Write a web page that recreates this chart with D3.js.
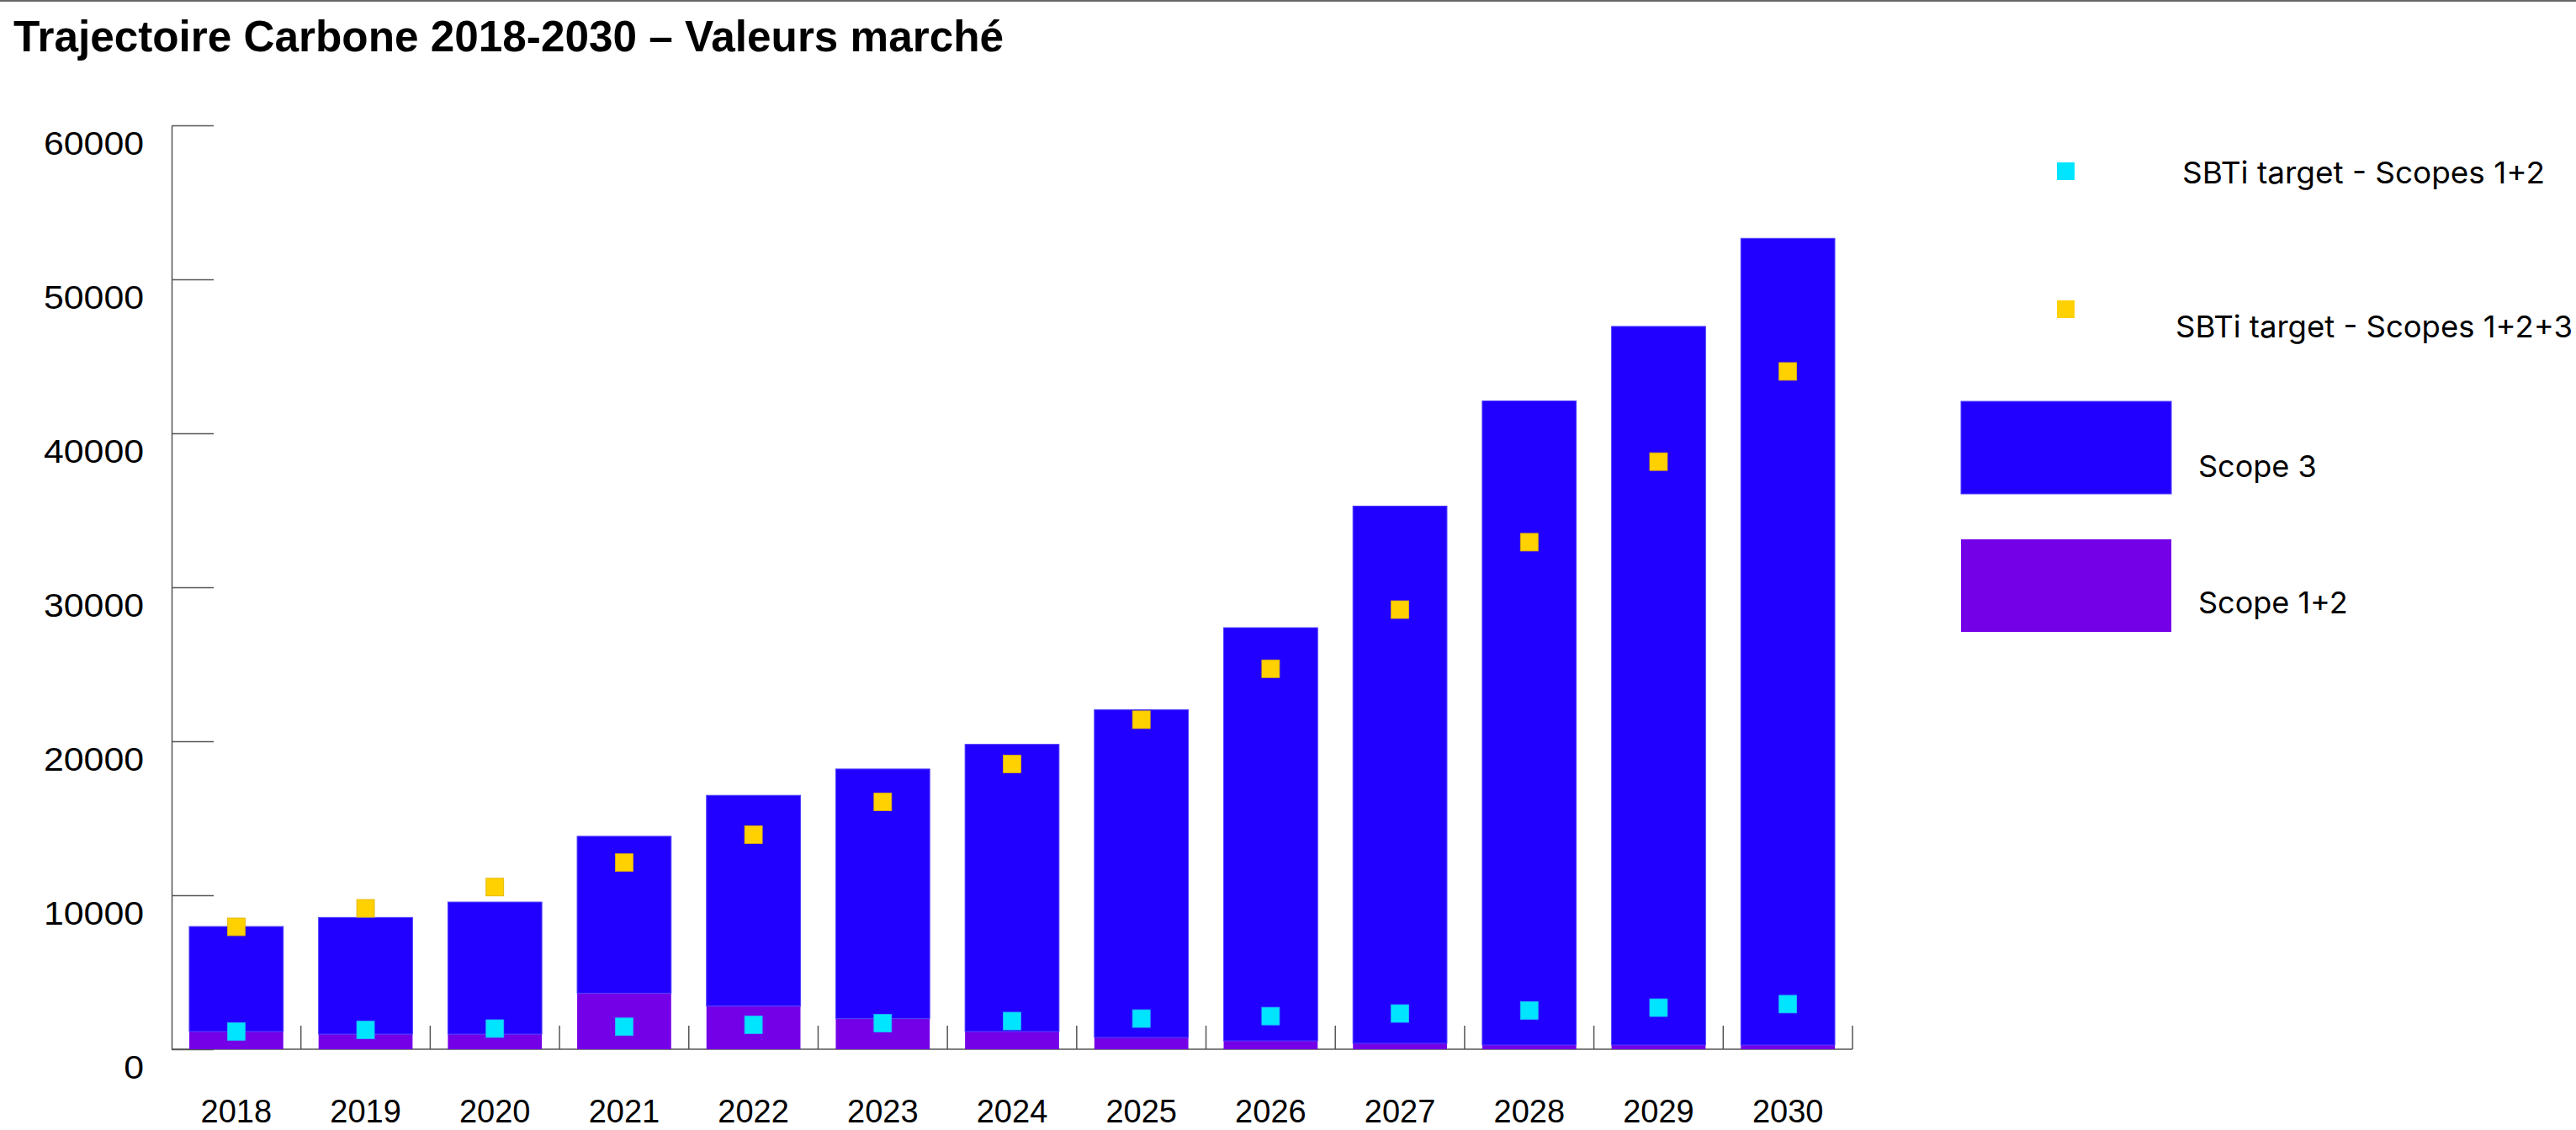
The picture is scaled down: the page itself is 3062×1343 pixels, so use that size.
<!DOCTYPE html>
<html>
<head>
<meta charset="utf-8">
<script src="https://cdn.jsdelivr.net/npm/d3@7"></script>
<style>
  body { margin: 0; background: #fff; }
  svg { display: block; }
</style>
</head>
<body>
<script>
const years = ["2018","2019","2020","2021","2022","2023","2024","2025","2026","2027","2028","2029","2030"];
const scope12 = [1150, 980, 980, 3640, 2800, 1990, 1150, 765, 546, 383, 273, 273, 273];
const scope3 = [6820, 7580, 8580, 10190, 13690, 16210, 18650, 21280, 26830, 34890, 41830, 46670, 52390];
const sbti12 = [1150, 1250, 1340, 1460, 1580, 1690, 1830, 1990, 2150, 2320, 2520, 2700, 2930];
const sbti123 = [7950, 9150, 10530, 12120, 13930, 16060, 18520, 21400, 24710, 28550, 32930, 38160, 44020];
const yTicks = [0, 10000, 20000, 30000, 40000, 50000, 60000];
const title = "Trajectoire Carbone 2018-2030 – Valeurs marché";

const W = 3062, H = 1343;
const colS3 = "#2200ff", colS12 = "#7400e8", colCyan = "#00e5ff", colYellow = "#ffd100";

const svg = d3.select("body").append("svg")
    .attr("width", W)
    .attr("height", H);

// top rule
svg.append("rect")
    .attr("x", 0).attr("y", 0)
    .attr("width", W).attr("height", 2)
    .attr("fill", "#666");

svg.append("text")
    .attr("x", 16)
    .attr("y", 61)
    .attr("font-family", "'Liberation Sans', Arial, sans-serif")
    .attr("font-weight", "bold")
    .attr("font-size", 52)
    .attr("textLength", 1177)
    .attr("lengthAdjust", "spacingAndGlyphs")
    .text(title);

const x = d3.scaleBand()
    .domain(years)
    .range([204, 2202])
    .paddingInner(0.273)
    .paddingOuter(0.1365);

const xb = d3.scaleBand()
    .domain(years)
    .range([204, 2202]);

const y = d3.scaleLinear()
    .domain([0, 60000])
    .range([1247, 149]);

// y axis
const yAxis = svg.append("g")
    .attr("transform", "translate(204,0)")
    .call(d3.axisLeft(y).tickValues(yTicks).tickFormat(d3.format("d"))
        .tickSize(-50).tickSizeOuter(0).tickPadding(33));
yAxis.select(".domain").attr("stroke", "#555").attr("stroke-width", 1.5);
yAxis.selectAll(".tick line").attr("stroke", "#555").attr("stroke-width", 1.5);
yAxis.selectAll(".tick text")
    .attr("y", 22)
    .attr("fill", "#000")
    .attr("font-family", "'Liberation Sans', Arial, sans-serif")
    .attr("font-size", 39)
    .attr("textLength", d => String(d).length * 23.8)
    .attr("lengthAdjust", "spacingAndGlyphs");

// x axis
const xAxis = svg.append("g")
    .attr("transform", "translate(0,1247)")
    .call(d3.axisBottom(x).tickSize(0).tickSizeOuter(0).tickPadding(60));
xAxis.select(".domain").remove();
xAxis.selectAll(".tick text")
    .attr("fill", "#000")
    .attr("font-family", "'Liberation Sans', Arial, sans-serif")
    .attr("font-size", 38);

svg.append("line")
    .attr("x1", 204).attr("x2", 2202)
    .attr("y1", 1247).attr("y2", 1247)
    .attr("stroke", "#555").attr("stroke-width", 1.5);

svg.append("g").selectAll("line")
    .data(years)
    .join("line")
    .attr("x1", d => xb(d) + xb.bandwidth())
    .attr("x2", d => xb(d) + xb.bandwidth())
    .attr("y1", 1219)
    .attr("y2", 1247)
    .attr("stroke", "#555")
    .attr("stroke-width", 1.5);

// stacked bars
const rows = years.map((yr, i) => ({ year: yr, s12: scope12[i], s3: scope3[i], t12: sbti12[i], t123: sbti123[i] }));

svg.append("g").selectAll("rect")
    .data(rows)
    .join("rect")
    .attr("x", d => x(d.year))
    .attr("width", x.bandwidth())
    .attr("y", d => y(d.s12))
    .attr("height", d => y(0) - y(d.s12))
    .attr("fill", colS12);

svg.append("g").selectAll("rect")
    .data(rows)
    .join("rect")
    .attr("x", d => x(d.year))
    .attr("width", x.bandwidth())
    .attr("y", d => y(d.s12 + d.s3))
    .attr("height", d => y(d.s12) - y(d.s12 + d.s3))
    .attr("fill", colS3)
    .attr("stroke", "#5040ff")
    .attr("stroke-width", 1);

// SBTi markers
const mk = 21;
svg.append("g").selectAll("rect")
    .data(rows)
    .join("rect")
    .attr("x", d => x(d.year) + x.bandwidth() / 2 - mk / 2)
    .attr("y", d => y(d.t12) - mk / 2)
    .attr("width", mk).attr("height", mk)
    .attr("fill", colCyan)
    .attr("stroke", "#20b8ff").attr("stroke-width", 0.8);

svg.append("g").selectAll("rect")
    .data(rows)
    .join("rect")
    .attr("x", d => x(d.year) + x.bandwidth() / 2 - mk / 2)
    .attr("y", d => y(d.t123) - mk / 2)
    .attr("width", mk).attr("height", mk)
    .attr("fill", colYellow)
    .attr("stroke", "#e0b000").attr("stroke-width", 0.8);

// legend
const lg = svg.append("g")
    .attr("font-family", "Inter, 'Noto Sans', sans-serif")
    .attr("font-size", 36)
    .attr("fill", "#000");

lg.append("rect").attr("x", 2445).attr("y", 193).attr("width", mk).attr("height", mk).attr("fill", colCyan);
lg.append("text").attr("x", 2594).attr("y", 218)
    .attr("textLength", 431).attr("lengthAdjust", "spacingAndGlyphs")
    .text("SBTi target - Scopes 1+2");

lg.append("rect").attr("x", 2445).attr("y", 357).attr("width", mk).attr("height", mk).attr("fill", colYellow);
lg.append("text").attr("x", 2586).attr("y", 401)
    .attr("textLength", 472).attr("lengthAdjust", "spacingAndGlyphs")
    .text("SBTi target - Scopes 1+2+3");

lg.append("rect").attr("x", 2331).attr("y", 477).attr("width", 250).attr("height", 110)
    .attr("fill", colS3).attr("stroke", "#5040ff").attr("stroke-width", 1);
lg.append("text").attr("x", 2613).attr("y", 567).text("Scope 3");

lg.append("rect").attr("x", 2331).attr("y", 641).attr("width", 250).attr("height", 110)
    .attr("fill", colS12);
lg.append("text").attr("x", 2613).attr("y", 729).text("Scope 1+2");
</script>
</body>
</html>
